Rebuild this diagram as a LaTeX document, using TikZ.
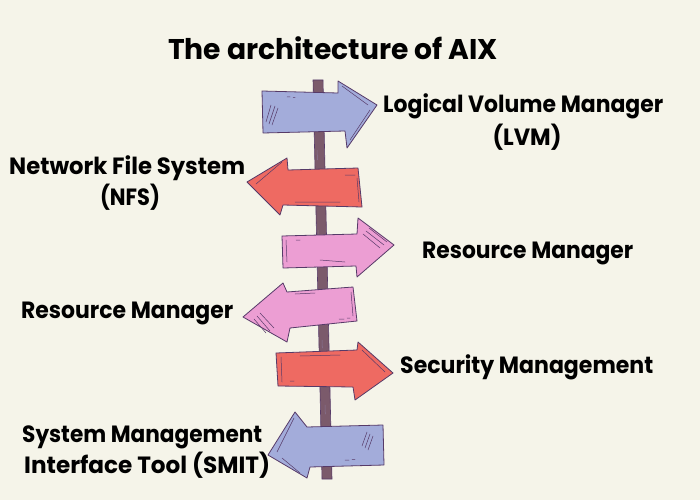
\documentclass[tikz,border=0pt]{standalone}
\usepackage{fontspec}
\usepackage{graphicx}
\setmainfont{Poppins}
\definecolor{bgc}{HTML}{F5F4E9}
\definecolor{blueA}{HTML}{A3ACDA}
\definecolor{redA}{HTML}{EE6A62}
\definecolor{pinkA}{HTML}{EC9ED3}
\definecolor{poleC}{HTML}{7B5A6B}
\definecolor{lineC}{HTML}{563A68}
\newcommand\fitw[2]{\sbox0{#2}\scalebox{\fpeval{#1/\the\wd0}}[1]{\usebox0}}
\tikzset{
  arrowshape/.style={draw=lineC, line width=0.8pt, line join=round},
  deco/.style={draw=lineC, line width=0.5pt, line cap=round},
  label/.style={inner sep=0pt, font=\fontsize{23.5}{27}\selectfont\bfseries, text=black},
  titlelabel/.style={inner sep=0pt, font=\fontsize{28.5}{33}\selectfont\bfseries, text=black}
}
\begin{document}
\begin{tikzpicture}[x=1pt,y=-1pt]
\useasboundingbox (0,0) rectangle (700,500);
\fill[bgc] (0,0) rectangle (700,500);

% pole
\filldraw[fill=poleC, draw=lineC, line width=0.6pt] (313,80) -- (323,80) -- (332,479) -- (322,479) -- cycle;
\draw[deco, draw=lineC!70] (317,150) -- (317.5,160) (318,230) -- (318.3,238) (320,300) -- (320.3,310) (322,340) -- (322.3,348) (325,405) -- (325.3,414);

% arrow 1 (blue, right)
\filldraw[arrowshape, fill=blueA] (262,91) -- (338,93) -- (338,81) -- (377,105) -- (347,148) -- (345,131) -- (263,133) -- cycle;
\draw[deco] (266,122) -- (271,105) (269,124) -- (275,106) (272,125) -- (278,108)
            (287,97) -- (290,97) (293,97.5) -- (295,97.5)
            (342,86) -- (368,105) (350,140) -- (370,110);

% arrow 2 (red, left)
\filldraw[arrowshape, fill=redA] (247,182) -- (287,158) -- (288,170) -- (358,168) -- (362,207) -- (283,205) -- (280,215) -- cycle;
\draw[deco] (345,175) -- (355,175) (357,178) -- (359,202) (295,202) -- (340,202) (256,184) -- (282,162);

% arrow 3 (pink, right)
\filldraw[arrowshape, fill=pinkA] (282,236) -- (357,234) -- (358,218) -- (394,245) -- (357,277) -- (356,266) -- (283,268) -- cycle;
\draw[deco] (363,234) -- (380,248) (366,231) -- (384,245) (369,228) -- (387,242)
            (296,240) -- (300,240) (320,260) -- (345,262) (286,240) -- (287,262);

% arrow 4 (pink, left)
\filldraw[arrowshape, fill=pinkA] (243,317) -- (283,283) -- (287,292) -- (353,287) -- (357,321) -- (290,328) -- (287,342) -- cycle;
\draw[deco] (295,294) -- (315,293) (257,316) -- (270,331) (254,319) -- (266,333) (260,313) -- (274,328)
            (339,319) -- (344,319) (347,318) -- (350,318) (351,292) -- (353,316);

% arrow 5 (red, right)
\filldraw[arrowshape, fill=redA] (276,353) -- (357,350) -- (358,342) -- (393,373) -- (355,400) -- (353,387) -- (278,386) -- cycle;
\draw[deco] (281,357) -- (282,382) (300,356) -- (340,355) (290,381) -- (294,381) (362,350) -- (385,372);

% arrow 6 (blue, left)
\filldraw[arrowshape, fill=blueA] (268,455) -- (295,412) -- (307,427) -- (383,425) -- (384,465) -- (310,467) -- (307,478) -- cycle;
\draw[deco] (362,446) -- (367,432) (365,448) -- (370,434) (368,450) -- (373,436)
            (345,460) -- (349,460) (352,459.5) -- (355,459.5) (277,452) -- (294,418) (282,458) -- (300,473);

% texts
\node[titlelabel, anchor=base] (title) at (333,60) {\fitw{330pt}{The architecture of AIX}};
\node[label, anchor=base west] (lvmA) at (383,112) {\fitw{280pt}{Logical Volume Manager}};
\node[label, anchor=base] (lvmB) at (527,145) {\fitw{69pt}{(LVM)}};
\node[label, anchor=base west] (nfsA) at (9,174) {\fitw{236pt}{Network File System}};
\node[label, anchor=base] (nfsB) at (130,205) {\fitw{60pt}{(NFS)}};
\node[label, anchor=base west] (rmR) at (422,258) {\fitw{211pt}{Resource Manager}};
\node[label, anchor=base west] (rmL) at (21,318) {\fitw{212pt}{Resource Manager}};
\node[label, anchor=base west] (sec) at (400,373) {\fitw{253pt}{Security Management}};
\node[label, anchor=base west] (smitA) at (22,442) {\fitw{240pt}{System Management}};
\node[label, anchor=base west] (smitB) at (24,473) {\fitw{246pt}{Interface Tool (SMIT)}};
\end{tikzpicture}
\end{document}
